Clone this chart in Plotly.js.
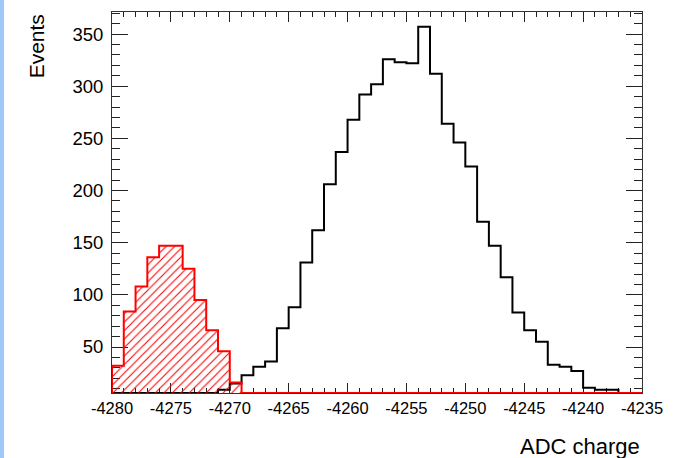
<!DOCTYPE html>
<html>
<head>
<meta charset="utf-8">
<script src="https://cdn.plot.ly/plotly-3.0.1.min.js"></script>
<style>
html,body{margin:0;padding:0;background:#fff;}
#wrap{position:relative;width:675px;height:458px;overflow:hidden;}
#chart{width:675px;height:458px;}
#strip{position:absolute;left:0;top:0;width:4px;height:458px;background:#9cc8fa;z-index:5;}
</style>
</head>
<body>
<div id="wrap"><div id="chart"></div><div id="strip"></div></div>
<script>
// Bin lower edges (width 1), upper edge of last bin
const binLow = [-4280,-4279,-4278,-4277,-4276,-4275,-4274,-4273,-4272,-4271,
                -4270,-4269,-4268,-4267,-4266,-4265,-4264,-4263,-4262,-4261,
                -4260,-4259,-4258,-4257,-4256,-4255,-4254,-4253,-4252,-4251,
                -4250,-4249,-4248,-4247,-4246,-4245,-4244,-4243,-4242,-4241,
                -4240,-4239,-4238,-4237,-4236];
const binHigh = -4235;

// Signal histogram (black)
const signalCounts = [0,0,0,0,0,0,0,0,0,9,
                      15,23,31,36,68,88,131,162,206,237,
                      268,292,302,326,323,322,357,312,264,246,
                      223,170,147,117,83,66,55,33,31,27,
                      11,9,9,0,0];
// Pedestal histogram (red, hatched)
const pedestalCounts = [32,84,108,136,147,147,125,95,66,46,
                        16,0,0,0,0,0,0,0,0,0,
                        0,0,0,0,0,0,0,0,0,0,
                        0,0,0,0,0,0,0,0,0,0,
                        0,0,0,0,0];

const xTickVals = [-4280,-4275,-4270,-4265,-4260,-4255,-4250,-4245,-4240,-4235];
const xTickText = ['-4280','-4275','-4270','-4265','-4260','-4255','-4250','-4245','-4240','-4235'];
const yTickVals = [50,100,150,200,250,300,350];
const yTickText = ['50','100','150','200','250','300','350'];

const yRange = [5.9, 371.2];
const xRange = [-4280, -4235];

// Step outline like ROOT: values below the frame are drawn on the frame bottom
function stepTrace(counts) {
  const floor = yRange[0];
  const clamped = counts.map(v => Math.max(v, floor));
  const xs = [binLow[0]].concat(binLow, [binHigh]);
  const ys = [floor].concat(clamped, [clamped[clamped.length - 1]]);
  return {xs: xs, ys: ys};
}

const sig = stepTrace(signalCounts);
const ped = stepTrace(pedestalCounts);

const traces = [
  {
    x: sig.xs, y: sig.ys, type: 'scatter', mode: 'lines',
    line: {shape: 'hv', color: '#000000', width: 2},
    hoverinfo: 'skip'
  },
  {
    x: ped.xs, y: ped.ys, type: 'scatter', mode: 'lines',
    line: {shape: 'hv', color: '#ff0000', width: 2},
    fill: 'tozeroy',
    fillcolor: 'rgba(255,255,255,0)',
    fillpattern: {shape: '/', fgcolor: '#ff0000', bgcolor: 'rgba(255,255,255,0)', size: 6, solidity: 0.18},
    hoverinfo: 'skip'
  }
];

const tickFontX = {family: 'Liberation Sans, Arial, sans-serif', size: 16.5, color: '#000'};
const tickFontY = {family: 'Liberation Sans, Arial, sans-serif', size: 18.5, color: '#000'};
const titleFont = {family: 'Liberation Sans, Arial, sans-serif', size: 21, color: '#000'};
const titleFontX = {family: 'Liberation Sans, Arial, sans-serif', size: 22, color: '#000'};

const layout = {
  width: 675, height: 458,
  margin: {l: 112, r: 33, t: 12, b: 65, pad: 0},
  paper_bgcolor: '#ffffff', plot_bgcolor: '#ffffff',
  showlegend: false,
  xaxis: {
    range: xRange, tickmode: 'array', tickvals: xTickVals, ticktext: xTickText,
    ticks: 'inside', ticklen: 10, tickwidth: 1, tickcolor: '#222',
    minor: {tickmode: 'linear', tick0: -4280, dtick: 1, ticks: 'inside', ticklen: 5, tickwidth: 1, tickcolor: '#222', showgrid: false},
    showline: true, linecolor: '#333', linewidth: 1, mirror: 'ticks',
    showgrid: false, zeroline: false, tickfont: tickFontX,
    layer: 'below traces', fixedrange: true
  },
  yaxis: {
    range: yRange, tickmode: 'array', tickvals: yTickVals, ticktext: yTickText,
    ticks: 'inside', ticklen: 16, tickwidth: 1, tickcolor: '#222',
    minor: {tickmode: 'linear', tick0: 0, dtick: 10, ticks: 'inside', ticklen: 8, tickwidth: 1, tickcolor: '#222', showgrid: false},
    showline: true, linecolor: '#333', linewidth: 1, mirror: 'ticks',
    showgrid: false, zeroline: false, tickfont: tickFontY,
    ticklabelstandoff: 4,
    layer: 'below traces', fixedrange: true
  },
  annotations: [
    {text: 'Events', xref: 'paper', yref: 'paper', x: -0.1427, y: 1, xanchor: 'center', yanchor: 'top',
     textangle: -90, showarrow: false, font: titleFont},
    {text: 'ADC charge', xref: 'paper', yref: 'paper', x: 1, y: -0.1414, xanchor: 'right', yanchor: 'middle',
     showarrow: false, font: titleFontX}
  ]
};

Plotly.newPlot('chart', traces, layout, {displayModeBar: false, staticPlot: true});
</script>
</body>
</html>
